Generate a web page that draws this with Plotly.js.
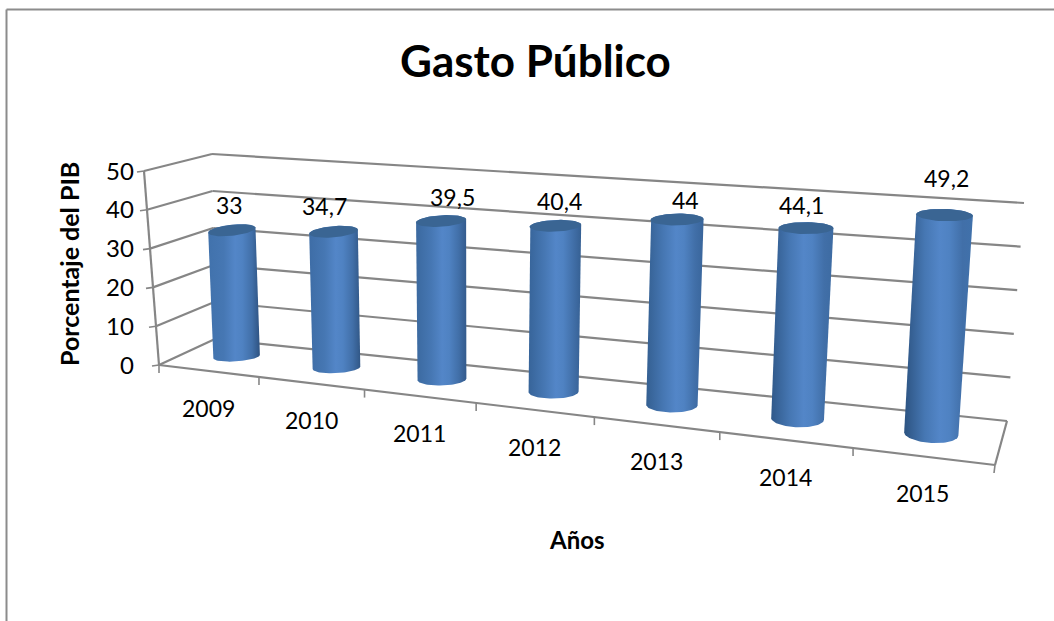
<!DOCTYPE html>
<html><head><meta charset="utf-8">
<script src="https://cdn.plot.ly/plotly-3.0.1.min.js"></script>
<style>html,body{margin:0;padding:0;background:#fff}#chart{width:1054px;height:621px}</style>
</head><body><div id="chart"></div>
<script>
// ---- data ----
const years = ['2009','2010','2011','2012','2013','2014','2015'];
const gasto = [33,34.7,39.5,40.4,44,44.1,49.2];
const gastoLabels = ['33','34,7','39,5','40,4','44','44,1','49,2'];
const valueTicks = [0,10,20,30,40,50];
const chartTitle = 'Gasto Público';
const xTitle = 'Años';
const yTitle = 'Porcentaje del PIB';

// ---- oblique 3D frame: pixel positions of the eight box corners ----
const frame = {
  fb:[[159,365],[995,465]], ft:[[144,171],[1009,231]],
  bb:[[215,339],[1007,421]], bt:[[212,154],[1024,203]]
};
const vMax = 50, persp = 1.227, midDepth = 0.53;
const warp = u => u/(u+persp*(1-u));
const mix = (a,b,t) => [a[0]+(b[0]-a[0])*t, a[1]+(b[1]-a[1])*t];
function project(u,v,d){
  const U = warp(u), V = v/vMax;
  const front = mix(mix(frame.fb[0],frame.fb[1],U), mix(frame.ft[0],frame.ft[1],U), V);
  const back  = mix(mix(frame.bb[0],frame.bb[1],U), mix(frame.bt[0],frame.bt[1],U), V);
  return mix(front,back,d);
}
function segs(list){
  const x=[],y=[];
  list.forEach(([a,b])=>{x.push(a[0],b[0],null);y.push(a[1],b[1],null);});
  return {x,y};
}
const grey = '#868686';
const traces = [];
function addLines(list,w){
  const s = segs(list);
  traces.push({type:'scatter',mode:'lines',x:s.x,y:s.y,hoverinfo:'skip',showlegend:false,
    line:{color:grey,width:w}});
}
// walls and floor
const wall = [];
valueTicks.forEach(v=>{
  wall.push([project(0,v,0),project(0,v,1)]);
  wall.push([project(0,v,1),project(1,v,1)]);
});
wall.push([project(1,0,0),project(1,0,1)]);
wall.push([project(0,0,0),project(1,0,0)]);
wall.push([project(0,0,0),project(0,vMax,0)]);
addLines(wall,2.2);
// tick marks
const ticks = [];
valueTicks.forEach(v=>{const p=project(0,v,0);ticks.push([p,[p[0]-7,p[1]+1]]);});
for(let k=0;k<=years.length;k++){const p=project(k/years.length,0,0);ticks.push([p,[p[0]-(k==years.length?1:0),p[1]+8]]);}
addLines(ticks,1.6);

// cylinders
function ellipse(c,a,b,tilt,t0,t1,n){
  const x=[],y=[];
  for(let i=0;i<=n;i++){
    const t=t0+(t1-t0)*i/n;
    x.push(c[0]+a*Math.cos(t));
    y.push(c[1]+a*Math.cos(t)*tilt+b*Math.sin(t));
  }
  return {x,y};
}
const hex = (a,b,t)=>'rgb('+[0,1,2].map(k=>Math.round(a[k]+(b[k]-a[k])*t)).join(',')+')';
const annotations = [];
const labelShift = [[-2,25],[-9,26],[11,24],[4,25],[8,20],[-4,23],[2,37]];
years.forEach((yr,i)=>{
  const u=(i+0.5)/years.length, U=warp(u);
  const bot=project(u,0,midDepth), top=project(u,gasto[i],midDepth);
  const aB=23+4.5*U, aT=23.3+5.5*U;
  const bB=4.5+5*U, bT=5.5+0.7*U;
  const tB=-0.08+0.15*U, tT=-0.11+0.15*U;
  const lower=ellipse(bot,aB,bB,tB,0,Math.PI,40);
  const upper=ellipse(top,aT,bT,tT,Math.PI,2*Math.PI,40);
  const leftEdge=hex([66,116,175],[42,80,125],U), rightEdge=hex([45,80,125],[66,116,175],U);
  traces.push({type:'scatter',mode:'lines',name:yr,
    x:lower.x.concat(upper.x,[lower.x[0]]),y:lower.y.concat(upper.y,[lower.y[0]]),
    fill:'toself',line:{width:0,color:'rgba(0,0,0,0)'},showlegend:false,hoverinfo:'skip',
    fillgradient:{type:'horizontal',colorscale:[[0,leftEdge],[0.3,'#4677b3'],[0.52,'#5386c8'],[0.66,'#4f82c2'],[0.85,'#416fa8'],[1,rightEdge]]}});
  const cap=ellipse(top,aT,bT,tT,0,2*Math.PI,60);
  traces.push({type:'scatter',mode:'lines',x:cap.x,y:cap.y,fill:'toself',fillcolor:'#3a6593',
    line:{width:0,color:'rgba(0,0,0,0)'},showlegend:false,hoverinfo:'skip'});
  annotations.push({xref:'x',yref:'y',x:top[0],y:top[1],xshift:labelShift[i][0],yshift:labelShift[i][1],
    text:gastoLabels[i],showarrow:false,font:{family:'Lato',size:23,color:'#000'},xanchor:'center',yanchor:'middle'});
  const f=project(u,0,0);
  annotations.push({xref:'x',yref:'y',x:f[0],y:f[1],yshift:-37,text:yr,showarrow:false,
    font:{family:'Lato',size:23,color:'#000'},xanchor:'center',yanchor:'middle'});
});
// value axis labels
valueTicks.forEach(v=>{
  const p=project(0,v,0);
  annotations.push({xref:'x',yref:'y',x:136,y:p[1]-1,text:String(v),showarrow:false,
    font:{family:'Lato',size:24,color:'#000'},xanchor:'right',yanchor:'middle'});
});
annotations.push({xref:'x',yref:'y',x:577,y:539,text:'<b>'+xTitle+'</b>',showarrow:false,
  font:{family:'Lato',size:24,color:'#000'}});
annotations.push({xref:'x',yref:'y',x:69,y:264,text:'<b>'+yTitle+'</b>',showarrow:false,textangle:-90,
  font:{family:'Lato',size:25,color:'#000'}});
annotations.push({xref:'x',yref:'y',x:535,y:60,text:'<b>'+chartTitle+'</b>',showarrow:false,
  font:{family:'Lato',size:44,color:'#000'}});

// chart frame
const layout = {
  width:1054,height:621,margin:{l:0,r:0,t:0,b:0},
  paper_bgcolor:'#fff',plot_bgcolor:'#fff',showlegend:false,
  xaxis:{range:[0,1054],visible:false,fixedrange:true},
  yaxis:{range:[621,0],visible:false,fixedrange:true},
  annotations,
  shapes:[{type:'line',xref:'x',yref:'y',x0:6.5,y0:621,x1:6.5,y1:9.5,line:{color:'#8c8c8c',width:2}},
          {type:'line',xref:'x',yref:'y',x0:6.5,y0:9.5,x1:1054,y1:9.5,line:{color:'#8c8c8c',width:2}}]
};
Plotly.newPlot('chart',traces,layout,{displayModeBar:false,staticPlot:true});
</script></body></html>
